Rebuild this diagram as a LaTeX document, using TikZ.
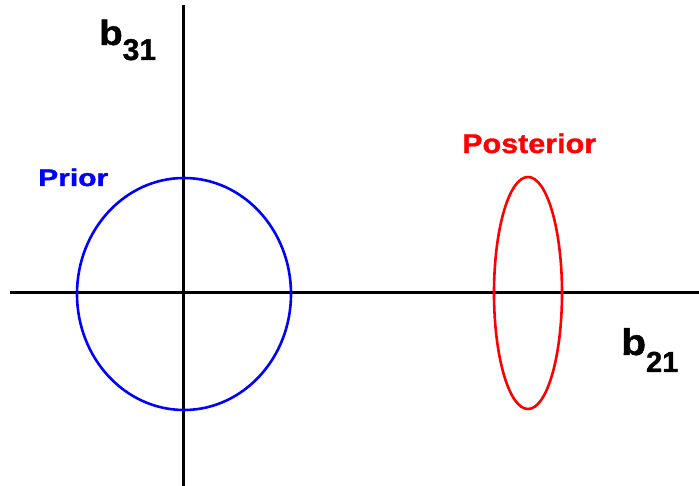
\documentclass[tikz,border=0pt]{standalone}
\usepackage{fontspec}
\setmainfont{Liberation Sans}[BoldFeatures={FakeBold=1.2}]
\begin{document}
\begin{tikzpicture}[x=1pt,y=-1pt,
  axis/.style={line width=3pt,black},
  curve/.style={line width=2.6pt},
  lab/.style={inner sep=0pt,anchor=base west,font=\bfseries}]
\useasboundingbox (0,0) rectangle (699,486);
\coordinate (xs) at (10,293);
\coordinate (xe) at (699,293);
\coordinate (ys) at (183,5);
\coordinate (ye) at (183,486);
\draw[axis] (xs) -- (xe);
\draw[axis] (ys) -- (ye);
\draw[curve,blue] (184,294) ellipse [x radius=107, y radius=116];
\draw[curve,red] (528,293) ellipse [x radius=34, y radius=116];
\node[lab] (b31) at (99,45) {\scalebox{1.1}[1]{\fontsize{35}{40}\selectfont b}\raisebox{-15pt}{\fontsize{30}{34}\selectfont 31}};
\node[lab] (b21) at (621,355) {\scalebox{1.1}[1]{\fontsize{37}{42}\selectfont b}\raisebox{-17pt}{\fontsize{29}{34}\selectfont 21}};
\node[lab,blue] (prior) at (38,186) {\scalebox{1.25}[1]{\fontsize{24}{28}\selectfont Prior}};
\node[lab,red] (post) at (462,153) {\scalebox{1.13}[1]{\fontsize{27}{30}\selectfont Posterior}};
\end{tikzpicture}
\end{document}
